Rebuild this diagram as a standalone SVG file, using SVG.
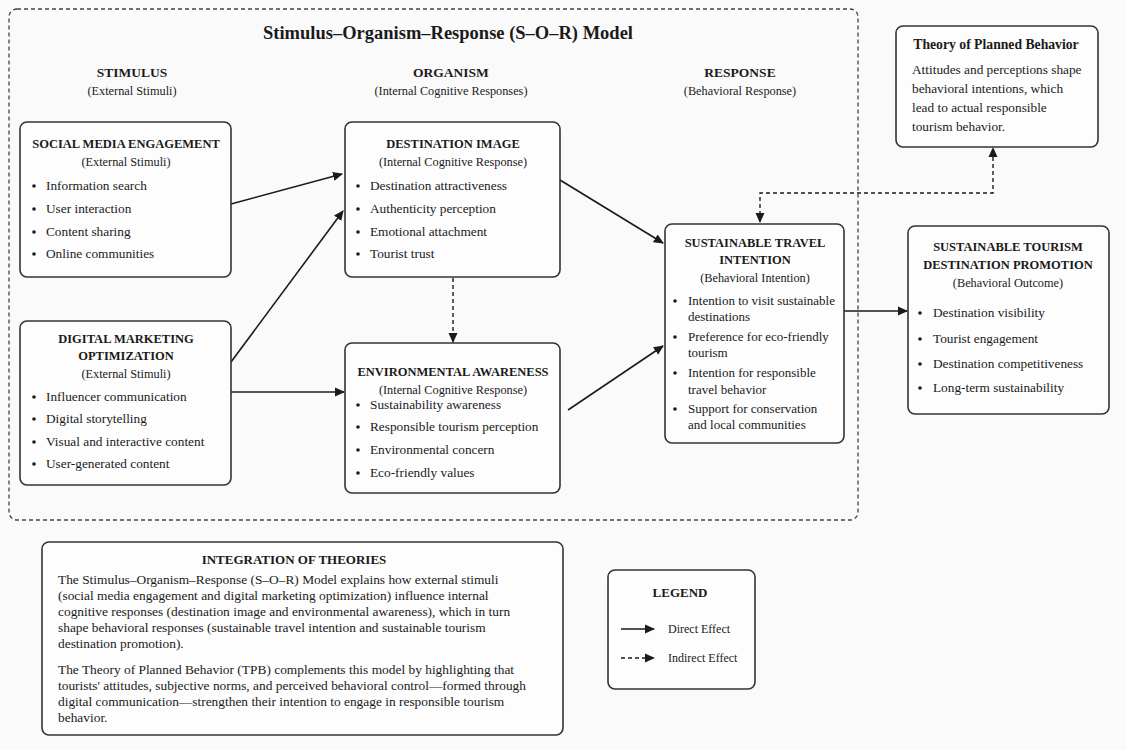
<svg xmlns="http://www.w3.org/2000/svg" width="1126" height="750" viewBox="0 0 1126 750">
<style>
text{font-family:"Liberation Serif","Times New Roman",serif;fill:#1a1a1a}
.box{fill:#fdfdfd;stroke:#333;stroke-width:1.6}
.frame{fill:none;stroke:#444;stroke-width:1.3;stroke-dasharray:4 3}
.t{font-size:18.5px;font-weight:bold;text-anchor:middle}
.ch{font-size:13.5px;font-weight:bold;text-anchor:middle}
.h{font-size:12.5px;font-weight:bold;text-anchor:middle}
.s{font-size:12.3px;text-anchor:middle}
.b{font-size:13.3px}
.bs{font-size:13px}
.p{font-size:13.4px}
.dot{fill:#1a1a1a}
.c{fill:none;stroke:#1a1a1a;stroke-width:1.6}
.d{fill:none;stroke:#1a1a1a;stroke-width:1.4;stroke-dasharray:4 3}
</style>
<defs>
<marker id="ah" viewBox="0 0 10 10" refX="9" refY="5" markerWidth="10" markerHeight="10" markerUnits="userSpaceOnUse" orient="auto-start-reverse">
<path d="M0,0.5 L10,5 L0,9.5 Z" fill="#1a1a1a"/>
</marker>
</defs>
<rect width="1126" height="750" fill="#fafafa"/>
<g id="sor-frame">
<rect class="frame" x="9" y="9" width="849" height="511" rx="8"/>
<text class="t" x="448" y="39">Stimulus–Organism–Response (S–O–R) Model</text>
<text class="ch" x="132" y="77">STIMULUS</text>
<text class="s" x="132" y="95">(External Stimuli)</text>
<text class="ch" x="451" y="77">ORGANISM</text>
<text class="s" x="451" y="95">(Internal Cognitive Responses)</text>
<text class="ch" x="740" y="77">RESPONSE</text>
<text class="s" x="740" y="95">(Behavioral Response)</text>
</g>
<g id="connectors">
<line class="c" x1="231" y1="204" x2="342" y2="174" marker-end="url(#ah)"/>
<line class="c" x1="231" y1="362" x2="343" y2="211" marker-end="url(#ah)"/>
<line class="c" x1="231" y1="392" x2="344" y2="392" marker-end="url(#ah)"/>
<line class="c" x1="560" y1="180" x2="663" y2="243" marker-end="url(#ah)"/>
<line class="c" x1="568" y1="410" x2="663" y2="346" marker-end="url(#ah)"/>
<line class="c" x1="844" y1="311" x2="907" y2="311" marker-end="url(#ah)"/>
<line class="d" x1="453" y1="278" x2="453" y2="342" marker-end="url(#ah)"/>
<path class="d" d="M760,222 V193 H993 V148" marker-start="url(#ah)" marker-end="url(#ah)"/>
</g>
<g id="social-media-engagement">
<rect class="box" x="20" y="122" width="211" height="155" rx="7"/>
<text class="h" x="126" y="148">SOCIAL MEDIA ENGAGEMENT</text>
<text class="s" x="126" y="166">(External Stimuli)</text>
<circle class="dot" cx="34" cy="186" r="1.8"/><text class="b" x="46" y="190">Information search</text>
<circle class="dot" cx="34" cy="209" r="1.8"/><text class="b" x="46" y="213">User interaction</text>
<circle class="dot" cx="34" cy="232" r="1.8"/><text class="b" x="46" y="236">Content sharing</text>
<circle class="dot" cx="34" cy="254" r="1.8"/><text class="b" x="46" y="258">Online communities</text>
</g>
<g id="digital-marketing-optimization">
<rect class="box" x="20" y="321" width="211" height="164" rx="7"/>
<text class="h" x="126" y="343">DIGITAL MARKETING</text>
<text class="h" x="126" y="360">OPTIMIZATION</text>
<text class="s" x="126" y="378">(External Stimuli)</text>
<circle class="dot" cx="34" cy="397" r="1.8"/><text class="b" x="46" y="401">Influencer communication</text>
<circle class="dot" cx="34" cy="419" r="1.8"/><text class="b" x="46" y="423">Digital storytelling</text>
<circle class="dot" cx="34" cy="442" r="1.8"/><text class="b" x="46" y="446">Visual and interactive content</text>
<circle class="dot" cx="34" cy="464" r="1.8"/><text class="b" x="46" y="468">User-generated content</text>
</g>
<g id="destination-image">
<rect class="box" x="345" y="122" width="215" height="155" rx="7"/>
<text class="h" x="453" y="148">DESTINATION IMAGE</text>
<text class="s" x="453" y="166">(Internal Cognitive Response)</text>
<circle class="dot" cx="358" cy="186" r="1.8"/><text class="b" x="370" y="190">Destination attractiveness</text>
<circle class="dot" cx="358" cy="209" r="1.8"/><text class="b" x="370" y="213">Authenticity perception</text>
<circle class="dot" cx="358" cy="232" r="1.8"/><text class="b" x="370" y="236">Emotional attachment</text>
<circle class="dot" cx="358" cy="254" r="1.8"/><text class="b" x="370" y="258">Tourist trust</text>
</g>
<g id="environmental-awareness">
<rect class="box" x="345" y="343" width="215" height="150" rx="7"/>
<text class="h" x="453" y="376">ENVIRONMENTAL AWARENESS</text>
<text class="s" x="453" y="394">(Internal Cognitive Response)</text>
<circle class="dot" cx="358" cy="405" r="1.8"/><text class="b" x="370" y="409">Sustainability awareness</text>
<circle class="dot" cx="358" cy="427" r="1.8"/><text class="b" x="370" y="431">Responsible tourism perception</text>
<circle class="dot" cx="358" cy="450" r="1.8"/><text class="b" x="370" y="454">Environmental concern</text>
<circle class="dot" cx="358" cy="473" r="1.8"/><text class="b" x="370" y="477">Eco-friendly values</text>
</g>
<g id="sustainable-travel-intention">
<rect class="box" x="665" y="224" width="179" height="219" rx="7"/>
<text class="h" x="755" y="247">SUSTAINABLE TRAVEL</text>
<text class="h" x="755" y="264">INTENTION</text>
<text class="s" x="755" y="282">(Behavioral Intention)</text>
<circle class="dot" cx="675" cy="301" r="1.8"/><text class="bs" x="688" y="305">Intention to visit sustainable</text>
<text class="bs" x="688" y="321">destinations</text>
<circle class="dot" cx="675" cy="337" r="1.8"/><text class="bs" x="688" y="341">Preference for eco-friendly</text>
<text class="bs" x="688" y="357">tourism</text>
<circle class="dot" cx="675" cy="373" r="1.8"/><text class="bs" x="688" y="377">Intention for responsible</text>
<text class="bs" x="688" y="394">travel behavior</text>
<circle class="dot" cx="675" cy="409" r="1.8"/><text class="bs" x="688" y="413">Support for conservation</text>
<text class="bs" x="688" y="429">and local communities</text>
</g>
<g id="sustainable-tourism-destination-promotion">
<rect class="box" x="908" y="226" width="201" height="188" rx="7"/>
<text class="h" x="1008" y="251">SUSTAINABLE TOURISM</text>
<text class="h" x="1008" y="269">DESTINATION PROMOTION</text>
<text class="s" x="1008" y="287">(Behavioral Outcome)</text>
<circle class="dot" cx="920" cy="313" r="1.8"/><text class="b" x="933" y="317">Destination visibility</text>
<circle class="dot" cx="920" cy="339" r="1.8"/><text class="b" x="933" y="343">Tourist engagement</text>
<circle class="dot" cx="920" cy="364" r="1.8"/><text class="b" x="933" y="368">Destination competitiveness</text>
<circle class="dot" cx="920" cy="388" r="1.8"/><text class="b" x="933" y="392">Long-term sustainability</text>
</g>
<g id="theory-of-planned-behavior">
<rect class="box" x="896" y="26" width="202" height="121" rx="7"/>
<text class="h" x="996" y="49" style="font-size:13.7px">Theory of Planned Behavior</text>
<text class="b" x="912" y="74">Attitudes and perceptions shape</text>
<text class="b" x="912" y="93">behavioral intentions, which</text>
<text class="b" x="912" y="112">lead to actual responsible</text>
<text class="b" x="912" y="131">tourism behavior.</text>
</g>
<g id="integration-of-theories">
<rect class="box" x="42" y="542" width="521" height="193" rx="7"/>
<text class="h" x="294" y="564" style="font-size:13px">INTEGRATION OF THEORIES</text>
<text class="p" x="58" y="584">The Stimulus–Organism–Response (S–O–R) Model explains how external stimuli</text>
<text class="p" x="58" y="600">(social media engagement and digital marketing optimization) influence internal</text>
<text class="p" x="58" y="616">cognitive responses (destination image and environmental awareness), which in turn</text>
<text class="p" x="58" y="632">shape behavioral responses (sustainable travel intention and sustainable tourism</text>
<text class="p" x="58" y="648">destination promotion).</text>
<text class="p" x="58" y="674">The Theory of Planned Behavior (TPB) complements this model by highlighting that</text>
<text class="p" x="58" y="690">tourists' attitudes, subjective norms, and perceived behavioral control—formed through</text>
<text class="p" x="58" y="706">digital communication—strengthen their intention to engage in responsible tourism</text>
<text class="p" x="58" y="722">behavior.</text>
</g>
<g id="legend">
<rect class="box" x="608" y="570" width="147" height="119" rx="7"/>
<text class="h" x="680" y="597" style="font-size:13px">LEGEND</text>
<line class="c" x1="621" y1="629" x2="654" y2="629" marker-end="url(#ah)"/>
<text class="s" x="668" y="633" style="text-anchor:start;font-size:12px">Direct Effect</text>
<line class="d" x1="621" y1="658" x2="654" y2="658" marker-end="url(#ah)"/>
<text class="s" x="668" y="662" style="text-anchor:start;font-size:12px">Indirect Effect</text>
</g>
</svg>
